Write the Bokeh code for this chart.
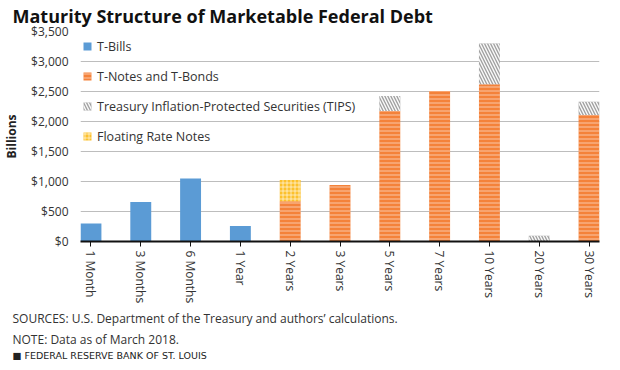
from bokeh.plotting import figure
from bokeh.models import (ColumnDataSource, FactorRange, Range1d, NumeralTickFormatter,
                          FixedTicker, Legend, LegendItem, Title)
from bokeh.embed import file_html
from bokeh.resources import INLINE

# ---- data (billions of dollars, as of March 2018) ----
categories = ["1 Month", "3 Months", "6 Months", "1 Year", "2 Years", "3 Years",
              "5 Years", "7 Years", "10 Years", "20 Years", "30 Years"]
t_bills = [300, 660, 1050, 260, 0, 0, 0, 0, 0, 0, 0]
t_notes = [0, 0, 0, 0, 670, 940, 2175, 2510, 2620, 0, 2110]
frn = [0, 0, 0, 0, 355, 0, 0, 0, 0, 0, 0]
tips = [0, 0, 0, 0, 0, 0, 250, 0, 680, 95, 220]
y_ticks = [0, 500, 1000, 1500, 2000, 2500, 3000, 3500]
series_names = ["T-Bills", "T-Notes and T-Bonds",
                "Treasury Inflation-Protected Securities (TIPS)", "Floating Rate Notes"]
title_text = "Maturity Structure of Marketable Federal Debt"
y_label = "Billions"
notes = ["SOURCES: U.S. Department of the Treasury and authors\u2019 calculations.",
         "NOTE: Data as of March 2018."]
brand = "\u25A0  FEDERAL RESERVE BANK OF ST. LOUIS"

FONT = "Open Sans"
TXT = "#333333"

source = ColumnDataSource(dict(cat=categories, t_bills=t_bills, t_notes=t_notes,
                               frn=frn, tips=tips))

p = figure(width=604, height=360,
           x_range=FactorRange(*categories, range_padding=-0.29, range_padding_units="absolute"),
           y_range=Range1d(0, 3500),
           output_backend="svg", toolbar_location=None,
           min_border_left=68, min_border_right=5, min_border_top=31, min_border_bottom=119)

renderers = p.vbar_stack(["t_bills", "t_notes", "frn", "tips"], x="cat", width=0.42,
                         source=source, line_color=None,
                         fill_color=["#5b9bd5", "#f4823a", "#fcc12d", "#a0a0a0"],
                         hatch_pattern=[" ", "-", "+", "\\"],
                         hatch_color=["white", "white", "white", "white"],
                         hatch_alpha=[0.0, 0.55, 0.6, 0.95],
                         hatch_scale=[4, 4, 4, 6],
                         hatch_weight=[1, 1, 1, 1.4])
r_bills, r_notes, r_frn, r_tips = renderers

legend = Legend(items=[LegendItem(label=series_names[0], renderers=[r_bills]),
                       LegendItem(label=series_names[1], renderers=[r_notes]),
                       LegendItem(label=series_names[2], renderers=[r_tips]),
                       LegendItem(label=series_names[3], renderers=[r_frn])],
                location=(2, 95), padding=0, margin=0, spacing=10,
                glyph_width=10, glyph_height=10, label_height=20, label_standoff=5,
                label_text_font=FONT, label_text_font_size="12.5px", label_text_color=TXT,
                border_line_color=None, background_fill_alpha=0)
p.add_layout(legend)

# axes
p.yaxis.ticker = FixedTicker(ticks=y_ticks)
p.yaxis.formatter = NumeralTickFormatter(format="$0,0")
p.yaxis.axis_line_color = None
p.yaxis.major_tick_line_color = None
p.yaxis.minor_tick_line_color = None
p.yaxis.major_label_standoff = 6
p.yaxis.major_label_text_font = FONT
p.yaxis.major_label_text_font_size = "12px"
p.yaxis.major_label_text_color = TXT
p.yaxis.axis_label = y_label
p.yaxis.axis_label_text_font = FONT
p.yaxis.axis_label_text_font_style = "bold"
p.yaxis.axis_label_text_font_size = "12px"
p.yaxis.axis_label_text_color = "#222222"
p.yaxis.axis_label_standoff = 8

p.xaxis.axis_line_color = "#111111"
p.xaxis.axis_line_width = 2
p.xaxis.major_tick_line_color = "#111111"
p.xaxis.major_tick_in = 0
p.xaxis.major_tick_out = 5
p.xaxis.major_label_orientation = "vertical"
p.xaxis.major_label_standoff = 4
p.xaxis.major_label_text_font = FONT
p.xaxis.major_label_text_font_size = "12px"
p.xaxis.major_label_text_color = TXT

p.xgrid.grid_line_color = None
p.ygrid.grid_line_color = "#bdbdbd"
p.ygrid.grid_line_width = 1
p.outline_line_color = None

# title (above) and footnotes (below)
p.title.text = title_text
p.title.align = "left"
p.title.vertical_align = "top"
p.title.offset = -68
p.title.text_font = FONT
p.title.text_font_size = "18px"
p.title.text_font_style = "bold"
p.title.text_color = "#111111"
p.title.standoff = 4

p.add_layout(Title(text=notes[0], align="left", offset=-68, text_font=FONT,
                   text_font_size="12px", text_font_style="normal",
                   text_color=TXT, standoff=3), "below")
p.add_layout(Title(text=notes[1], align="left", offset=-68, text_font=FONT,
                   text_font_size="12px", text_font_style="normal",
                   text_color=TXT, standoff=0), "below")
p.add_layout(Title(text=brand, align="left", offset=-68, text_font="DejaVu Sans",
                   text_font_size="9.5px", text_font_style="normal",
                   text_color="#222222", standoff=0), "below")

open("out.html", "w").write(file_html(p, INLINE))
